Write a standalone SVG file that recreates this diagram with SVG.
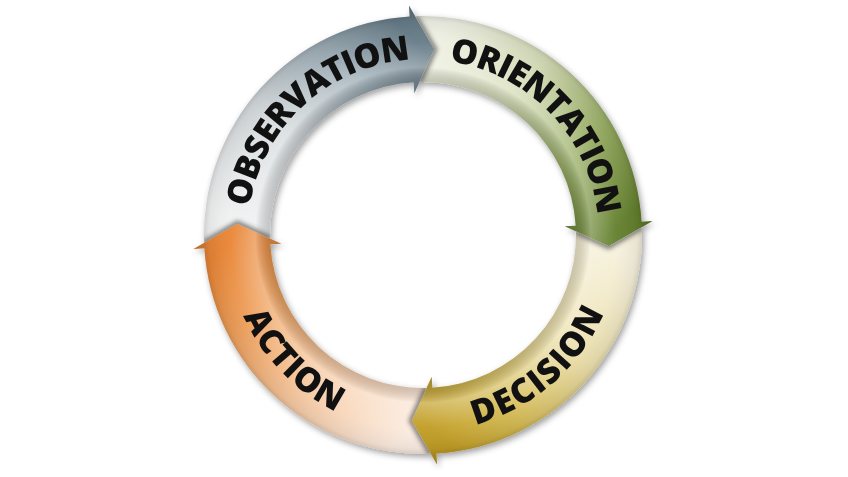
<svg xmlns="http://www.w3.org/2000/svg" xmlns:xlink="http://www.w3.org/1999/xlink" width="848" height="477" viewBox="0 0 848 477">
<style>
.lbl{font-family:"Open Sans","DejaVu Sans",sans-serif;font-weight:800;font-size:34px;fill:#111;}
.notch{fill:none;stroke:#3a3a3a;stroke-width:6;stroke-opacity:0.6;}
</style>
<defs>
<path id="seg" d="M -7.83 -218.86 A 219 219 0 0 1 218.59 -13.37 L 229.57 -14.04 L 185.65 11.36 L 141.74 -8.67 L 152.71 -9.34 A 153 153 0 0 0 -3.55 -152.96 L 11.36 -185.65 Z"/>
<clipPath id="segClip"><use xlink:href="#seg"/></clipPath>
<filter id="shadow" x="-20%" y="-20%" width="140%" height="140%">
<feDropShadow dx="2" dy="3" stdDeviation="3" flood-color="#000" flood-opacity="0.38"/>
</filter>
<filter id="blur" x="-50%" y="-50%" width="200%" height="200%">
<feGaussianBlur stdDeviation="2.2"/>
</filter>
<linearGradient id="gObs" gradientUnits="userSpaceOnUse" x1="0" y1="-186" x2="186" y2="0">
<stop offset="0" stop-color="#f2f3f3"/><stop offset="0.4" stop-color="#d4d9dc"/><stop offset="0.75" stop-color="#98a8b1"/><stop offset="1" stop-color="#677c88"/>
</linearGradient>
<linearGradient id="gOri" gradientUnits="userSpaceOnUse" x1="0" y1="-186" x2="186" y2="0">
<stop offset="0" stop-color="#f1f2e6"/><stop offset="0.35" stop-color="#d6ddb9"/><stop offset="0.7" stop-color="#98ad64"/><stop offset="1" stop-color="#64802e"/>
</linearGradient>
<linearGradient id="gDec" gradientUnits="userSpaceOnUse" x1="0" y1="-186" x2="186" y2="0">
<stop offset="0" stop-color="#f7f2df"/><stop offset="0.4" stop-color="#ece0ad"/><stop offset="0.75" stop-color="#d5bb55"/><stop offset="1" stop-color="#c19d25"/>
</linearGradient>
<linearGradient id="gAct" gradientUnits="userSpaceOnUse" x1="0" y1="-186" x2="186" y2="0">
<stop offset="0" stop-color="#fcede2"/><stop offset="0.4" stop-color="#f6c9a2"/><stop offset="0.75" stop-color="#ee9f5a"/><stop offset="1" stop-color="#e98536"/>
</linearGradient>
<radialGradient id="tube" gradientUnits="userSpaceOnUse" cx="0" cy="0" r="230">
<stop offset="0.617" stop-color="#000" stop-opacity="0.22"/>
<stop offset="0.665" stop-color="#000" stop-opacity="0.16"/>
<stop offset="0.73" stop-color="#fff" stop-opacity="0.28"/>
<stop offset="0.84" stop-color="#fff" stop-opacity="0.04"/>
<stop offset="0.93" stop-color="#000" stop-opacity="0.06"/>
<stop offset="0.952" stop-color="#000" stop-opacity="0.14"/>
<stop offset="1" stop-color="#000" stop-opacity="0.2"/>
</radialGradient>
<path id="pObs" d="M 252.15 272.88 A 174 174 0 0 1 475.62 68.10"/>
<path id="pOri" d="M 380.66 65.20 A 174 174 0 0 1 591.22 283.24"/>
<path id="pDec" d="M 358.86 421.27 A 197 197 0 0 0 616.38 197.41"/>
<path id="pAct" d="M 233.63 180.70 A 197 197 0 0 0 470.66 426.15"/>
</defs>
<rect width="848" height="477" fill="#fff"/>
<g id="cycle" filter="url(#shadow)">
<g id="observation" transform="translate(423 235) rotate(270)">
<use xlink:href="#seg" fill="url(#gObs)"/>
<use xlink:href="#seg" fill="url(#tube)"/>
<g clip-path="url(#segClip)"><polyline class="notch" filter="url(#blur)" points="-7.83,-218.86 11.36,-185.65 -3.55,-152.96"/></g>
</g>
<g id="orientation" transform="translate(423 235)">
<use xlink:href="#seg" fill="url(#gOri)"/>
<use xlink:href="#seg" fill="url(#tube)"/>
<g clip-path="url(#segClip)"><polyline class="notch" filter="url(#blur)" points="-7.83,-218.86 11.36,-185.65 -3.55,-152.96"/></g>
</g>
<g id="decision" transform="translate(423 235) rotate(90)">
<use xlink:href="#seg" fill="url(#gDec)"/>
<use xlink:href="#seg" fill="url(#tube)"/>
<g clip-path="url(#segClip)"><polyline class="notch" filter="url(#blur)" points="-7.83,-218.86 11.36,-185.65 -3.55,-152.96"/></g>
</g>
<g id="action" transform="translate(423 235) rotate(180)">
<use xlink:href="#seg" fill="url(#gAct)"/>
<use xlink:href="#seg" fill="url(#tube)"/>
<g clip-path="url(#segClip)"><polyline class="notch" filter="url(#blur)" points="-7.83,-218.86 11.36,-185.65 -3.55,-152.96"/></g>
</g>
</g>
<g id="labels">
<text class="lbl"><textPath xlink:href="#pObs" startOffset="50%" text-anchor="middle" textLength="236" lengthAdjust="spacing">OBSERVATION</textPath></text>
<text class="lbl"><textPath xlink:href="#pOri" startOffset="50%" text-anchor="middle" textLength="230" lengthAdjust="spacing">ORIENTATION</textPath></text>
<text class="lbl"><textPath xlink:href="#pDec" startOffset="50%" text-anchor="middle" textLength="176" lengthAdjust="spacing">DECISION</textPath></text>
<text class="lbl"><textPath xlink:href="#pAct" startOffset="50%" text-anchor="middle" textLength="136" lengthAdjust="spacing">ACTION</textPath></text>
</g>
</svg>
